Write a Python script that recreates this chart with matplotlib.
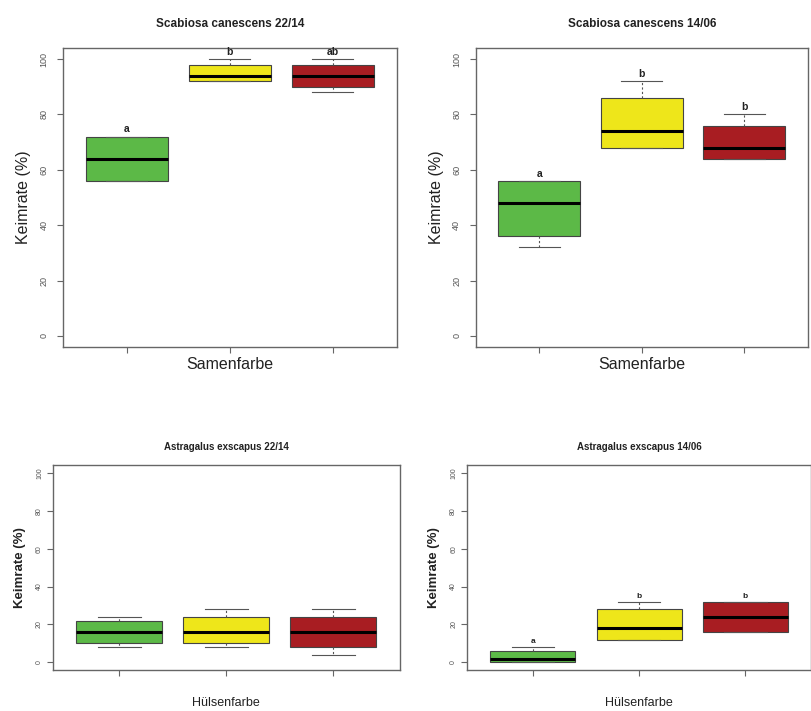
import matplotlib
matplotlib.use("Agg")
import matplotlib.pyplot as plt

plt.rcParams['font.family'] = ['Liberation Sans', 'DejaVu Sans']

# colour groups (seed / pod colour)
groups = ["grün", "gelb", "rot"]
box_colors = ["#5cb947", "#eee61a", "#a81d22"]

titles = ["Scabiosa canescens 22/14", "Scabiosa canescens 14/06",
          "Astragalus exscapus 22/14", "Astragalus exscapus 14/06"]
xlabels = ["Samenfarbe", "Samenfarbe", "Hülsenfarbe", "Hülsenfarbe"]

# five-number summaries: whisker low, Q1, median, Q3, whisker high
sc22_lo = [56, 92, 88]
sc22_q1 = [56, 92, 90]
sc22_med = [64, 94, 94]
sc22_q3 = [72, 98, 98]
sc22_hi = [72, 100, 100]
sc22_letters = ["a", "b", "ab"]

sc14_lo = [32, 68, 64]
sc14_q1 = [36, 68, 64]
sc14_med = [48, 74, 68]
sc14_q3 = [56, 86, 76]
sc14_hi = [56, 92, 80]
sc14_letters = ["a", "b", "b"]

as22_lo = [8, 8, 4]
as22_q1 = [10, 10, 8]
as22_med = [16, 16, 16]
as22_q3 = [22, 24, 24]
as22_hi = [24, 28, 28]
as22_letters = ["", "", ""]

as14_lo = [0, 12, 16]
as14_q1 = [0, 12, 16]
as14_med = [2, 18, 24]
as14_q3 = [6, 28, 32]
as14_hi = [8, 32, 32]
as14_letters = ["a", "b", "b"]

panels = [
    (sc22_lo, sc22_q1, sc22_med, sc22_q3, sc22_hi, sc22_letters),
    (sc14_lo, sc14_q1, sc14_med, sc14_q3, sc14_hi, sc14_letters),
    (as22_lo, as22_q1, as22_med, as22_q3, as22_hi, as22_letters),
    (as14_lo, as14_q1, as14_med, as14_q3, as14_hi, as14_letters),
]

rects = [
    [0.0776, 0.512, 0.411, 0.4205],
    [0.586, 0.512, 0.409, 0.4205],
    [0.065, 0.0577, 0.427, 0.288],
    [0.575, 0.0577, 0.424, 0.288],
]

fig = plt.figure(figsize=(8.12, 7.11), dpi=100)
axis_col = "#666666"

for i, (lo, q1, med, q3, hi, letters) in enumerate(panels):
    ax = fig.add_axes(rects[i])
    top = i < 2
    stats = []
    for j in range(len(groups)):
        stats.append({"whislo": lo[j], "q1": q1[j], "med": med[j],
                      "q3": q3[j], "whishi": hi[j], "fliers": [],
                      "label": groups[j]})
    pos = [1, 2, 3]
    bp = ax.bxp(stats, positions=pos, widths=0.8, patch_artist=True,
                showfliers=False,
                boxprops=dict(edgecolor="#444444", linewidth=0.8),
                medianprops=dict(color="black", linewidth=2.2),
                whiskerprops=dict(color="#555555", linewidth=0.8,
                                  linestyle=(0, (2, 2))),
                capprops=dict(color="#555555", linewidth=0.8),
                capwidths=0.4)
    for patch, c in zip(bp["boxes"], box_colors):
        patch.set_facecolor(c)

    fs_letter = 7.5 if top else 6
    for j, t in enumerate(letters):
        if t:
            ax.annotate(t, (pos[j], hi[j]), xytext=(0, 1.5),
                        textcoords="offset points", ha="center",
                        va="bottom", fontsize=fs_letter, fontweight="bold",
                        color="#222222")

    ax.set_xlim(0.38, 3.62)
    ax.set_ylim(-4, 104)
    ax.set_xticks(pos)
    ax.set_xticklabels([])
    ax.set_yticks([0, 20, 40, 60, 80, 100])
    ax.set_yticklabels(["0", "20", "40", "60", "80", "100"],
                       rotation=90, va="center")
    for s in ax.spines.values():
        s.set_color(axis_col)
        s.set_linewidth(1.0)
    ax.tick_params(axis="both", colors=axis_col, length=4.5, width=0.8,
                   labelsize=6.5 if top else 5, pad=6 if top else 2.5)
    for lab in ax.get_yticklabels():
        lab.set_color("#555555")

    ax.set_title(titles[i], fontsize=8.5 if top else 7, fontweight="bold",
                 color="#222222", pad=15 if top else 11)
    ax.set_ylabel("Keimrate (%)", fontsize=11.5 if top else 9.5,
                  fontweight="normal" if top else "bold",
                  color="#222222", labelpad=6 if top else 7)
    ax.set_xlabel(xlabels[i], fontsize=11.5 if top else 9,
                  color="#222222", labelpad=-3 if top else 12.5)

fig.savefig("out.png", dpi=100)
